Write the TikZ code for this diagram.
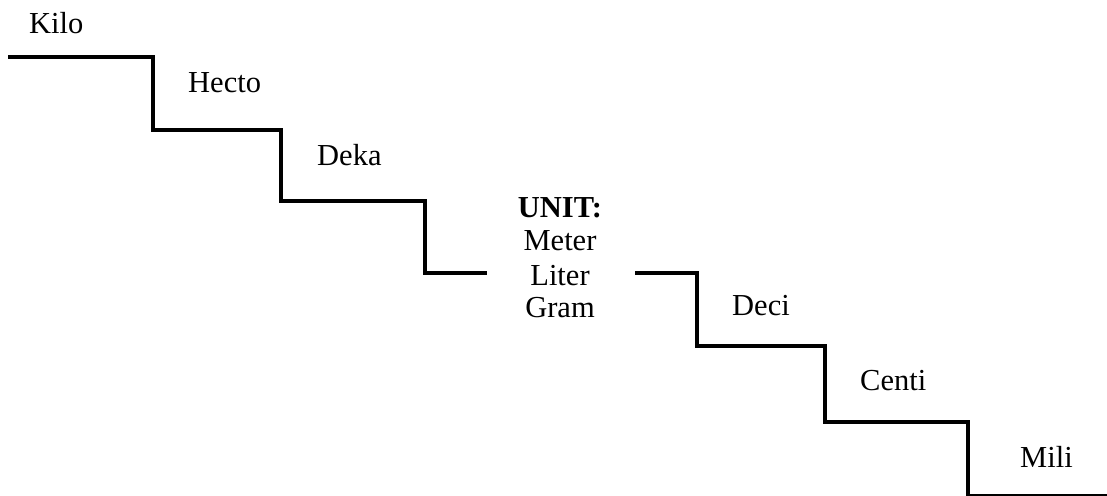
\documentclass[tikz,border=0pt]{standalone}
\usepackage{fontspec}
\setmainfont{Liberation Serif}
\begin{document}
\begin{tikzpicture}[x=1pt,y=-1pt,
  stair/.style={line width=3.4pt, line join=miter, line cap=butt, black},
  lab/.style={inner sep=0pt, anchor=base west, font=\fontsize{30.5}{33}\selectfont},
  unitlab/.style={inner sep=0pt, anchor=base, font=\fontsize{30.5}{33}\selectfont}]
\useasboundingbox (0,0) rectangle (1107,495);
% staircase, upper half
\draw[stair] (8,57) -- (153,57) -- (153,130) -- (281,130) -- (281,201)
  -- (425,201) -- (425,273) -- (487,273);
% staircase, lower half
\draw[stair] (635,273) -- (697,273) -- (697,346) -- (825,346) -- (825,422)
  -- (968,422) -- (968,496) -- (1115,496);
% step labels
\node[lab] (kilo)  at (29,34)   {Kilo};
\node[lab] (hecto) at (188,92)  {Hecto};
\node[lab] (deka)  at (317,165) {Deka};
\node[lab] (deci)  at (732,315) {Deci};
\node[lab] (centi) at (860,390) {Centi};
\node[lab] (mili)  at (1020,467) {Mili};
% unit block
\node[unitlab] (unit)  at (560,217) {\textbf{UNIT:}};
\node[unitlab] (meter) at (560,250) {Meter};
\node[unitlab] (liter) at (560,285) {Liter};
\node[unitlab] (gram)  at (560,317) {Gram};
\end{tikzpicture}
\end{document}
